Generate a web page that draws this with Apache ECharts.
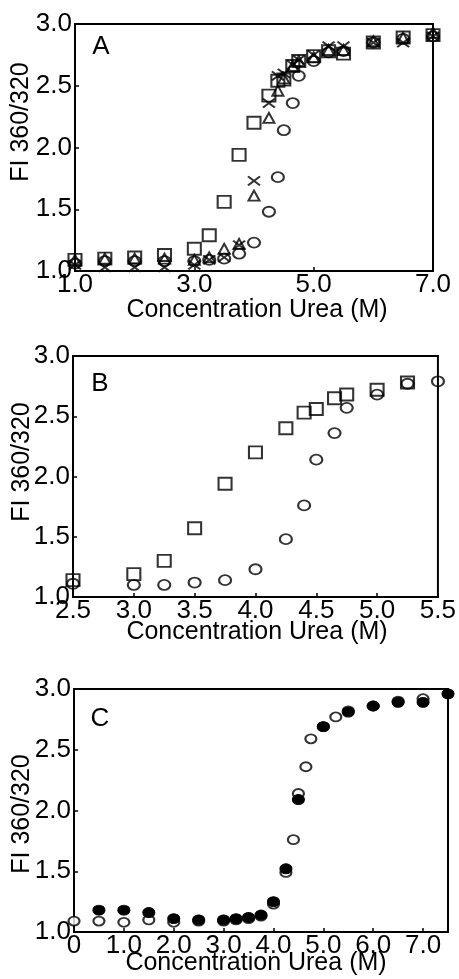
<!DOCTYPE html>
<html>
<head>
<meta charset="utf-8">
<script src="https://cdn.jsdelivr.net/npm/echarts@6/dist/echarts.min.js"></script>
<style>
html,body{margin:0;padding:0;background:#fff;}
#chart{width:459px;height:979px;}
</style>
</head>
<body>
<div id="chart"></div>
<script>
// ---- Panel A data ----
var xA = [1.0,1.5,2.0,2.5,3.0,3.25,3.5,3.75,4.0,4.25,4.4,4.5,4.65,4.75,5.0,5.25,5.5,6.0,6.5,7.0];
var squareA = [1.09,1.10,1.11,1.13,1.18,1.29,1.56,1.94,2.20,2.42,2.54,2.55,2.66,2.70,2.74,2.78,2.76,2.85,2.89,2.91];
var triangleA = [1.09,1.10,1.10,1.10,1.09,1.11,1.18,1.22,1.61,2.24,2.46,2.56,2.66,2.70,2.73,2.79,2.79,2.86,2.89,2.93];
var crossA = [1.05,1.03,1.03,1.03,1.05,1.09,1.11,1.21,1.73,2.36,2.58,2.60,2.67,2.71,2.75,2.82,2.82,2.85,2.85,2.90];
var circleA = [1.06,1.08,1.08,1.08,1.08,1.09,1.10,1.14,1.23,1.48,1.76,2.14,2.36,2.58,2.70,2.77,2.78,2.85,2.88,2.90];
// ---- Panel B data ----
var xB = [2.5,3.0,3.25,3.5,3.75,4.0,4.25,4.4,4.5,4.65,4.75,5.0,5.25,5.5];
var squareB = [1.14,1.19,1.30,1.57,1.94,2.20,2.40,2.53,2.56,2.65,2.68,2.72,2.78,null];
var circleB = [1.11,1.10,1.10,1.12,1.14,1.23,1.48,1.76,2.14,2.36,2.57,2.68,2.77,2.79];
// ---- Panel C data ----
var xC = [0,0.5,1.0,1.5,2.0,2.5,3.0,3.25,3.5,3.75,4.0,4.25,4.4,4.5,4.65,4.75,5.0,5.25,5.5,6.0,6.5,7.0,7.5];
var openC = [1.09,1.09,1.08,1.10,1.08,1.09,1.09,1.10,1.11,1.13,1.23,1.49,1.76,2.14,2.36,2.59,2.69,2.77,2.82,2.86,2.90,2.92,null];
var filledC = [null,1.18,1.18,1.16,1.11,1.10,1.10,1.11,1.12,1.14,1.25,1.52,null,2.09,null,null,2.69,null,2.81,2.86,2.89,2.89,2.96];
// ---- tick settings ----
var xTicksA = {min:1, max:7, interval:2};
var xTicksB = {min:2.5, max:5.5, interval:0.5};
var xTicksC = {min:0, max:7.5, interval:1};
var yTicks = {min:1, max:3, interval:0.5};

var FONT = "'Liberation Sans', Arial, sans-serif";
function pairs(xs, ys){ var out=[]; for(var i=0;i<xs.length;i++){ if(ys[i]!==null && ys[i]!==undefined) out.push([xs[i], ys[i]]); } return out; }

var grids = [
  {left:75, top:24, width:358, height:247},
  {left:73, top:356, width:371, height:241},
  {left:74, top:689, width:374, height:243}
];
grids.forEach(function(g){ g.show=true; g.borderColor='#000'; g.borderWidth=2; g.backgroundColor='transparent'; });

function xAxis(idx, t, fmt){
  return {type:'value', gridIndex:idx, min:t.min, max:t.max, interval:t.interval,
    axisLine:{show:true, lineStyle:{color:'#000', width:2}},
    axisTick:{show:true, inside:true, length:4, lineStyle:{color:'#000', width:1.5}},
    splitLine:{show:false},
    axisLabel:{color:'#000', fontSize:26, fontFamily:FONT, margin:1, formatter:fmt}};
}
function yAxis(idx){
  return {type:'value', gridIndex:idx, min:yTicks.min, max:yTicks.max, interval:yTicks.interval,
    axisLine:{show:true, lineStyle:{color:'#000', width:2}},
    axisTick:{show:true, inside:true, length:4, lineStyle:{color:'#000', width:1.5}},
    splitLine:{show:false},
    axisLabel:{color:'#000', fontSize:26, fontFamily:FONT, margin:3, formatter:function(v){return v.toFixed(1);}}};
}
var fmt1 = function(v){ return v.toFixed(1); };
var fmtC = function(v){ if(v===0) return '0'; if(Math.abs(v-Math.round(v))<1e-9) return v.toFixed(1); return ''; };

var CROSS = 'path://M0,0L10,10M10,0L0,10';
function open(sym, size, xi, yi, data, z){
  return {type:'scatter', xAxisIndex:xi, yAxisIndex:yi, symbol:sym, symbolSize:size, data:data, clip:false, z:z||2,
    itemStyle:{color:'transparent', borderColor:'#000', borderWidth:2}, emphasis:{disabled:true}};
}

var option = {
  animation:false,
  backgroundColor:'#fff',
  grid: grids,
  xAxis: [xAxis(0,xTicksA,fmt1), xAxis(1,xTicksB,fmt1), xAxis(2,xTicksC,fmtC)],
  yAxis: [yAxis(0), yAxis(1), yAxis(2)],
  series: [
    open('circle',[12,10],0,0,pairs(xA,circleA)),
    open('triangle',[11,10],0,0,pairs(xA,triangleA)),
    open(CROSS,[12,9],0,0,pairs(xA,crossA)),
    open('rect',[13,12],0,0,pairs(xA,squareA)),
    open('rect',[13,12],1,1,pairs(xB,squareB)),
    open('circle',[12,10],1,1,pairs(xB,circleB)),
    {type:'scatter', xAxisIndex:2, yAxisIndex:2, symbol:'circle', symbolSize:[11,9], data:pairs(xC,openC), clip:false, z:2,
      itemStyle:{color:'#fff', borderColor:'#000', borderWidth:2}, emphasis:{disabled:true}},
    {type:'scatter', xAxisIndex:2, yAxisIndex:2, symbol:'circle', symbolSize:[12,10], data:pairs(xC,filledC), clip:false, z:3,
      itemStyle:{color:'#000', borderColor:'#000', borderWidth:1, opacity:1}, emphasis:{disabled:true}}
  ],
  graphic: [
    {type:'text', x:101, y:47, style:{text:'A', font:'26px '+FONT, fill:'#000', textAlign:'center', textVerticalAlign:'middle'}},
    {type:'text', x:100, y:384, style:{text:'B', font:'26px '+FONT, fill:'#000', textAlign:'center', textVerticalAlign:'middle'}},
    {type:'text', x:100, y:719, style:{text:'C', font:'26px '+FONT, fill:'#000', textAlign:'center', textVerticalAlign:'middle'}},
    {type:'text', x:21, y:122, rotation:Math.PI/2, style:{text:'FI 360/320', font:'25px '+FONT, fill:'#000', textAlign:'center', textVerticalAlign:'middle'}},
    {type:'text', x:22, y:462, rotation:Math.PI/2, style:{text:'FI 360/320', font:'25px '+FONT, fill:'#000', textAlign:'center', textVerticalAlign:'middle'}},
    {type:'text', x:22, y:814, rotation:Math.PI/2, style:{text:'FI 360/320', font:'25px '+FONT, fill:'#000', textAlign:'center', textVerticalAlign:'middle'}},
    {type:'text', x:257, y:310, style:{text:'Concentration Urea (M)', font:'25px '+FONT, fill:'#000', textAlign:'center', textVerticalAlign:'middle'}},
    {type:'text', x:257, y:632, style:{text:'Concentration Urea (M)', font:'25px '+FONT, fill:'#000', textAlign:'center', textVerticalAlign:'middle'}},
    {type:'text', x:256, y:963, style:{text:'Concentration Urea (M)', font:'25px '+FONT, fill:'#000', textAlign:'center', textVerticalAlign:'middle'}}
  ]
};
var chart = echarts.init(document.getElementById('chart'), null, {renderer:'canvas'});
chart.setOption(option);
</script>
</body>
</html>
